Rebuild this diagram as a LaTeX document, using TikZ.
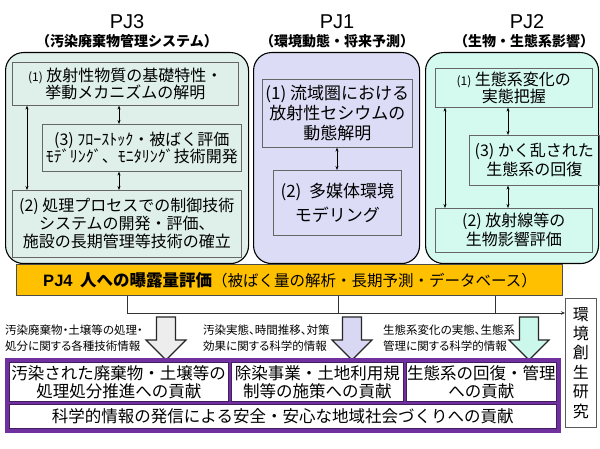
\documentclass[tikz,border=0pt]{standalone}
\usepackage{fontspec}
\setmainfont{Noto Sans CJK JP}
\newfontfamily\lat{Liberation Sans}
\newfontfamily\pfont[RawFeature=+palt]{Noto Sans CJK JP}
\usetikzlibrary{arrows.meta,calc}
\definecolor{pjthree}{HTML}{DFF0EB}
\definecolor{pjone}{HTML}{DCDCF6}
\definecolor{pjtwo}{HTML}{D4F9EF}
\definecolor{pjfour}{HTML}{FFC000}
\definecolor{purp}{HTML}{7030A0}
\definecolor{arrgray}{HTML}{EDEDED}
\definecolor{arrlav}{HTML}{D8D8F4}
\definecolor{arrcyan}{HTML}{CCF8EC}
\tikzset{
  bigbox/.style={draw=black, line width=1.1pt, rounded corners=18pt, anchor=north west, inner sep=0pt},
  inbox/.style={draw=gray!80!black, line width=0.6pt, anchor=north west, inner sep=0pt, align=center},
  whitebox/.style={draw=purp!60!black, line width=0.5pt, fill=white, anchor=north west, inner sep=0pt, align=center, font=\fontsize{16.5}{18}\selectfont},
  dbl/.style={{Stealth[length=4pt,width=3pt]}-{Stealth[length=4pt,width=3pt]}, line width=0.6pt},
  pjt/.style={font=\lat\fontsize{20}{20}\selectfont},
  pjsub/.style={font=\bfseries\fontsize{14}{14}\selectfont},
  txa/.style={font=\fontsize{16}{17}\selectfont},
  small/.style={font=\pfont\fontsize{11.5}{15.5}\selectfont, align=left, anchor=north west, inner sep=0pt},
  blockarr/.style={draw=black!85, line width=1.2pt, line join=miter}
}
\newcommand{\sm}[1]{{\fontsize{12}{12}\selectfont #1}}
\begin{document}
\begin{tikzpicture}[x=1pt,y=-1pt]
\useasboundingbox (0,0) rectangle (600,449);
\fill[white] (0,0) rectangle (600,449);

% titles
\node[pjt] (t3) at (127,22) {PJ3};
\node[pjsub] (s3) at (127,41) {（汚染廃棄物管理システム）};
\node[pjt] (t1) at (337,22) {PJ1};
\node[pjsub] (s1) at (337,41) {（環境動態・将来予測）};
\node[pjt] (t2) at (527,22) {PJ2};
\node[pjsub] (s2) at (524,41) {（生物・生態系影響）};

% big rounded boxes
\node[bigbox, fill=pjthree, minimum width=243pt, minimum height=211pt] (p3) at (5,52) {};
\node[bigbox, fill=pjone, minimum width=166pt, minimum height=211pt] (p1) at (253,52) {};
\node[bigbox, fill=pjtwo, minimum width=173pt, minimum height=211pt] (p2) at (425,52) {};

% PJ3 inner
\node[inbox, txa, minimum width=226pt, minimum height=43pt] (p3b1) at (12,62)
  {\sm{(1)} 放射性物質の基礎特性・\\挙動メカニズムの解明};
\node[inbox, txa, minimum width=199pt, minimum height=47pt] (p3b3) at (42,124)
  {(3) ﾌﾛｰｽﾄｯｸ・被ばく評価\\ﾓﾃﾞﾘﾝｸﾞ、ﾓﾆﾀﾘﾝｸﾞ技術開発};
\node[inbox, font=\fontsize{16}{18}\selectfont, minimum width=229pt, minimum height=67pt] (p3b2) at (12,190)
  {(2) 処理プロセスでの制御技術\\システムの開発・評価、\\施設の長期管理等技術の確立};
\coordinate (p3l) at (27,0);
\coordinate (p3m) at (119,0);
\draw[dbl] (p3b1.south -| p3l) -- (p3b2.north -| p3l);
\draw[dbl] (p3b1.south -| p3m) -- (p3b3.north -| p3m);
\draw[dbl] (p3b3.south -| p3m) -- (p3b2.north -| p3m);

% PJ1 inner
\node[inbox, font=\fontsize{17}{20}\selectfont, minimum width=150pt, minimum height=68pt] (p1b1) at (262,79)
  {(1) 流域圏における\\放射性セシウムの\\動態解明};
\node[inbox, font=\fontsize{17}{24}\selectfont, minimum width=128pt, minimum height=65pt] (p1b2) at (273,170)
  {(2)\ \ 多媒体環境\\モデリング};
\coordinate (p1m) at (337,0);
\draw[dbl] (p1b1.south -| p1m) -- (p1b2.north -| p1m);

% PJ2 inner
\node[inbox, txa, minimum width=157pt, minimum height=39pt] (p2b1) at (435,68)
  {\sm{(1)} 生態系変化の\\実態把握};
\node[inbox, font=\fontsize{16}{19}\selectfont, minimum width=130pt, minimum height=50pt] (p2b3) at (469,135)
  {(3) かく乱された\\生態系の回復};
\node[inbox, font=\fontsize{16}{19}\selectfont, minimum width=157pt, minimum height=44pt] (p2b2) at (435,208)
  {(2) 放射線等の\\生物影響評価};
\coordinate (p2l) at (445,0);
\coordinate (p2m) at (508,0);
\draw[dbl] (p2b1.south -| p2l) -- (p2b2.north -| p2l);
\draw[dbl] (p2b1.south -| p2m) -- (p2b3.north -| p2m);
\draw[dbl] (p2b3.south -| p2m) -- (p2b2.north -| p2m);

% PJ4 bar
\node[draw=gray!60!black, line width=0.8pt, fill=pjfour, anchor=north west, inner sep=0pt,
      minimum width=546pt, minimum height=31pt] (pj4) at (16,264) {};
\node (pj4t) at (290,280) {{\bfseries\fontsize{16.5}{17}\selectfont {\lat PJ4}\hspace{0.45em}人への曝露量評価}{\fontsize{15.5}{17}\selectfont（被ばく量の解析・長期予測・データベース）}};

% env box
\node[draw=gray!70!black, line width=0.8pt, fill=white, anchor=north west, inner sep=0pt,
      minimum width=31pt, minimum height=129pt, align=center, font=\fontsize{16}{19.4}\selectfont] (env) at (565,298)
  {環\\境\\創\\生\\研\\究};

% connecting lines
\coordinate (v1) at (127,0);
\coordinate (v2) at (338,0);
\coordinate (v3) at (495,0);
\coordinate (hl) at (0,313);
\draw[line width=0.9pt, gray!40!black, -{Stealth[length=4pt,width=3.5pt]}] (pj4.south -| v1) |- (env.west |- hl);
\draw[line width=0.9pt, gray!40!black] (pj4.south -| v2) -- (v2 |- hl);
\draw[line width=0.9pt, gray!40!black] (pj4.south -| v3) -- (v3 |- hl);

% block arrows
\coordinate (a1) at (166,317);
\coordinate (a2) at (352,317);
\coordinate (a3) at (529,317);
\draw[blockarr, fill=arrgray] (a1) ++(-9.5,0) -- ++(19,0) -- ++(0,23) -- ++(10.5,0) -- ++(-20,20) -- ++(-20,-20) -- ++(10.5,0) -- cycle;
\draw[blockarr, fill=arrlav] (a2) ++(-9.5,0) -- ++(19,0) -- ++(0,23) -- ++(10.5,0) -- ++(-20,20) -- ++(-20,-20) -- ++(10.5,0) -- cycle;
\draw[blockarr, fill=arrcyan] (a3) ++(-9.5,0) -- ++(19,0) -- ++(0,23) -- ++(10.5,0) -- ++(-20,20) -- ++(-20,-20) -- ++(10.5,0) -- cycle;

% arrow texts
\node[small] (x1) at (5,325) {汚染廃棄物・土壌等の処理・\\処分に関する各種技術情報};
\node[small] (x2) at (203,325) {汚染実態、時間推移、対策\\効果に関する科学的情報};
\node[small] (x3) at (383,325) {生態系変化の実態、生態系\\管理に関する科学的情報};

% bottom frame
\node[fill=purp, draw=purp, anchor=north west, inner sep=0pt, minimum width=555pt, minimum height=74pt] (frame) at (5,358) {};
\node[whitebox, minimum width=219pt, minimum height=39pt] (bb1) at (9,362) {汚染された廃棄物・土壌等の\\処理処分推進への貢献};
\node[whitebox, minimum width=172pt, minimum height=39pt] (bb2) at (231,362) {除染事業・土地利用規\\制等の施策への貢献};
\node[whitebox, minimum width=150pt, minimum height=39pt] (bb3) at (406,362) {生態系の回復・管理\\への貢献};
\node[whitebox, minimum width=547pt, minimum height=24pt] (bb4) at (9,404) {科学的情報の発信による安全・安心な地域社会づくりへの貢献};
\end{tikzpicture}
\end{document}
